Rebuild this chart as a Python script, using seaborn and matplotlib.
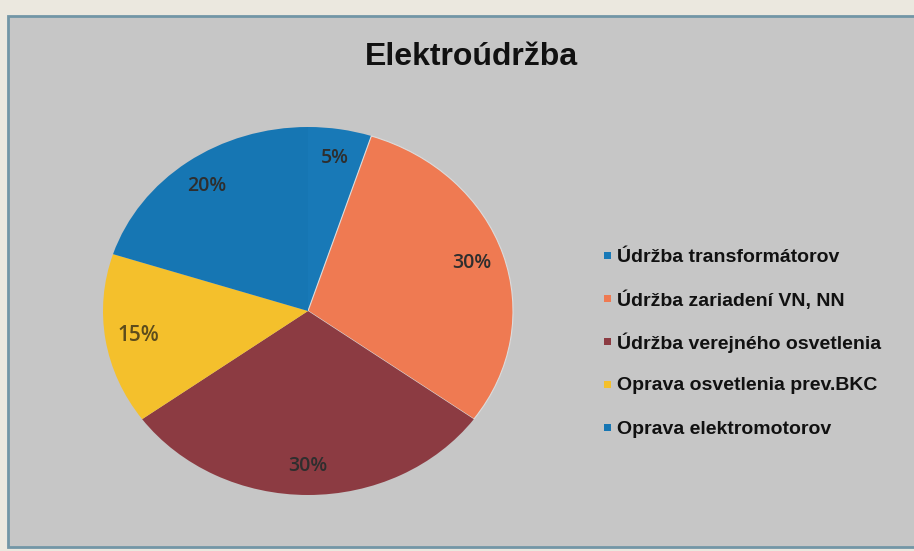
import matplotlib
matplotlib.use("Agg")
import matplotlib.pyplot as plt
import seaborn as sns
from matplotlib.patches import Rectangle

# data
categories = ['Údržba transformátorov', 'Údržba zariadení VN, NN',
              'Údržba verejného osvetlenia', 'Oprava osvetlenia prev.BKC',
              'Oprava elektromotorov']
shares = [5, 30, 30, 15, 20]
slice_colors = ['#1879b7', '#ef7a52', '#8c3b42', '#f4c02c', '#1676b3']
title = 'Elektroúdržba'

sns.set_theme(style='white')
plt.rcParams['font.family'] = ['Liberation Sans', 'DejaVu Sans']

W, H = 914, 551
fig = plt.figure(figsize=(W / 100, H / 100), dpi=100, facecolor='#ebe8df')

# grey chart area with its border (scan frame)
fig.patches.append(Rectangle((8 / W, (H - 547) / H), 1.0, (547 - 16) / H,
                             transform=fig.transFigure, facecolor='#c6c6c6',
                             edgecolor='#7296a6', linewidth=2, zorder=-10))

# pie axes sized to the (slightly stretched) pie in the scan
ax = fig.add_axes([103 / W, (H - 495) / H, 410 / W, 368 / H])
ax.set_facecolor('none')
wedges, texts, autotexts = ax.pie(
    shares, colors=slice_colors, startangle=90, counterclock=False,
    autopct='%1.0f%%', pctdistance=0.84,
    wedgeprops=dict(linewidth=0),
    textprops=dict(fontsize=14, fontweight='semibold', color='#2e2e2e',
                   family=['Open Sans', 'DejaVu Sans']))
# light seam only where blue meets orange, like the scan
wedges[1].set_edgecolor('#dcdcdc')
wedges[1].set_linewidth(0.8)
autotexts[3].set_color('#5c4c1c')
autotexts[3].set_fontsize(15)
ax.set_aspect('auto')
ax.set_xlim(-1, 1)
ax.set_ylim(-1, 1)
ax.axis('off')

fig.text(471 / W, 1 - 57 / H, title, ha='center', va='center',
         fontsize=23, fontweight='bold', color='#111111')

# legend: evenly spaced rows like the original
for i, (name, col) in enumerate(zip(categories, slice_colors)):
    y = 1 - (255 + 43 * i) / H
    fig.patches.append(Rectangle((604 / W, y - 3.5 / H), 7 / W, 7 / H,
                                 transform=fig.transFigure, facecolor=col,
                                 edgecolor='none'))
    fig.text(617 / W, y, name, ha='left', va='center_baseline',
             fontsize=14, fontweight='bold', color='#111111')

fig.savefig('out.png', dpi=100, facecolor=fig.get_facecolor())
